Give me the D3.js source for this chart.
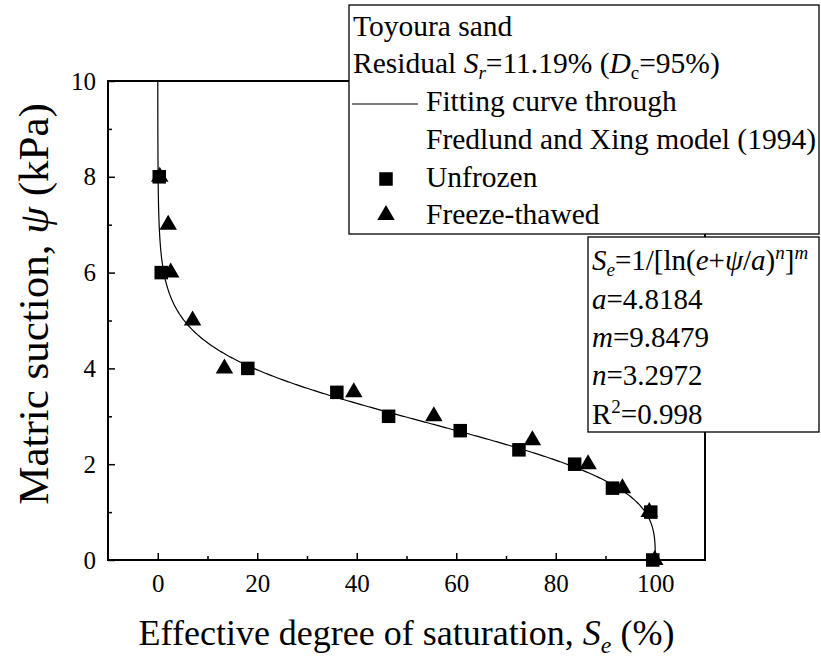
<!DOCTYPE html>
<html>
<head>
<meta charset="utf-8">
<script src="https://cdn.jsdelivr.net/npm/d3@7"></script>
<style>
  html, body { margin: 0; padding: 0; background: #fff; }
  svg { display: block; font-family: "Liberation Serif", "Times New Roman", serif; }
</style>
</head>
<body>
<svg id="chart" width="821" height="661"></svg>
<script>
// Soil-water characteristic data: effective saturation (%) vs matric suction (kPa)
const suctionUnfrozen = [8, 6, 4, 3.5, 3, 2.7, 2.3, 2, 1.5, 1, 0];
const satUnfrozen     = [0.3, 0.7, 18.1, 36.0, 46.4, 60.8, 72.6, 83.8, 91.4, 99.1, 99.5];
const suctionThawed   = [8, 7, 6, 5, 4, 3.5, 3, 2.5, 2, 1.5, 1, 0];
const satThawed       = [0.4, 2.1, 2.6, 7.0, 13.4, 39.4, 55.5, 75.3, 86.5, 93.4, 98.8, 99.9];

// Fredlund & Xing (1994) fit parameters
const fitA = 4.8184, fitM = 9.8479, fitN = 3.2972, fitR2 = 0.998;

const xTicks = [0, 20, 40, 60, 80, 100];
const yTicks = [0, 2, 4, 6, 8, 10];

const svg = d3.select("#chart");
const L = 108, R = 705, T = 81, B = 560;

const x = d3.scaleLinear().domain([-10, 110]).range([L, R]);
const y = d3.scaleLinear().domain([0, 10]).range([B, T]);

// fitted curve
const fx = psi => 100 / Math.pow(Math.log(Math.E + Math.pow(psi / fitA, fitN)), fitM);
const psiGrid = d3.range(0, 10.0001, 0.01);
const curve = psiGrid.map(p => [fx(p), p]);

svg.append("path")
  .attr("d", d3.line().x(d => x(d[0])).y(d => y(d[1]))(curve))
  .attr("fill", "none").attr("stroke", "#000").attr("stroke-width", 1.2);

// markers
const sq = 13.5, triW = 17.5, triH = 15;
const triPath = `M0,${-2*triH/3}L${triW/2},${triH/3}L${-triW/2},${triH/3}Z`;

svg.append("g").selectAll("rect")
  .data(d3.zip(satUnfrozen, suctionUnfrozen)).join("rect")
  .attr("x", d => x(d[0]) - sq/2).attr("y", d => y(d[1]) - sq/2)
  .attr("width", sq).attr("height", sq).attr("fill", "#000");

svg.append("g").selectAll("path")
  .data(d3.zip(satThawed, suctionThawed)).join("path")
  .attr("transform", d => `translate(${x(d[0])},${y(d[1])})`)
  .attr("d", triPath).attr("fill", "#000");

// axes (ticks pointing inward)
const xAxis = svg.append("g").attr("transform", `translate(0,${B})`)
  .call(d3.axisBottom(x).tickValues(xTicks).tickSize(-7).tickPadding(14).tickFormat(d3.format("d")));
const xMinor = svg.append("g").attr("transform", `translate(0,${B})`)
  .call(d3.axisBottom(x).tickValues(d3.range(10, 110, 20)).tickSize(-4).tickFormat(""));
const yAxis = svg.append("g").attr("transform", `translate(${L},0)`)
  .call(d3.axisLeft(y).tickValues(yTicks).tickSize(-7).tickPadding(12).tickFormat(d3.format("d")));
const yMinor = svg.append("g").attr("transform", `translate(${L},0)`)
  .call(d3.axisLeft(y).tickValues(d3.range(1, 10, 2)).tickSize(-4).tickFormat(""));

[xAxis, xMinor, yAxis, yMinor].forEach(g => {
  g.attr("font-family", null);
  g.select(".domain").remove();
  g.selectAll("line").attr("stroke", "#000").attr("stroke-width", 1.5);
  g.selectAll("text").attr("font-family", "Liberation Serif").attr("font-size", 25).attr("fill", "#000");
});

// frame
svg.append("rect").attr("x", L).attr("y", T).attr("width", R - L).attr("height", B - T)
  .attr("fill", "none").attr("stroke", "#000").attr("stroke-width", 2);

// axis titles
const xt = svg.append("text").attr("x", (L + R) / 2).attr("y", 645)
  .attr("text-anchor", "middle").attr("font-size", 36);
xt.append("tspan").text("Effective degree of saturation, ");
xt.append("tspan").attr("font-style", "italic").text("S");
xt.append("tspan").attr("font-style", "italic").attr("font-size", 24).attr("dy", 8).text("e");
xt.append("tspan").attr("dy", -8).text(" (%)");

const yt = svg.append("text").attr("transform", "translate(48,304) rotate(-90)")
  .attr("text-anchor", "middle").attr("font-size", 43);
yt.append("tspan").text("Matric suction, ");
yt.append("tspan").attr("font-style", "italic").text("ψ");
yt.append("tspan").text(" (kPa)");

// legend box
const lg = svg.append("g");
lg.append("rect").attr("x", 349).attr("y", 5).attr("width", 470).attr("height", 229)
  .attr("fill", "#fff").attr("stroke", "#000").attr("stroke-width", 1.3);
const fs = 29.5;
lg.append("text").attr("x", 353).attr("y", 36).attr("font-size", fs).text("Toyoura sand");
const r2 = lg.append("text").attr("x", 353).attr("y", 73).attr("font-size", fs);
r2.append("tspan").text("Residual ");
r2.append("tspan").attr("font-style", "italic").text("S");
r2.append("tspan").attr("font-style", "italic").attr("font-size", 19).attr("dy", 6).text("r");
r2.append("tspan").attr("dy", -6).text("=11.19% (");
r2.append("tspan").attr("font-style", "italic").text("D");
r2.append("tspan").attr("font-size", 19).attr("dy", 6).text("c");
r2.append("tspan").attr("dy", -6).text("=95%)");
lg.append("line").attr("x1", 352).attr("x2", 418).attr("y1", 104).attr("y2", 104)
  .attr("stroke", "#000").attr("stroke-width", 1.2);
lg.append("text").attr("x", 426).attr("y", 111).attr("font-size", fs).text("Fitting curve through");
lg.append("text").attr("x", 426).attr("y", 149).attr("font-size", fs).text("Fredlund and Xing model (1994)");
lg.append("rect").attr("x", 386 - sq/2).attr("y", 179 - sq/2).attr("width", sq).attr("height", sq).attr("fill", "#000");
lg.append("text").attr("x", 426).attr("y", 187).attr("font-size", fs).text("Unfrozen");
lg.append("path").attr("transform", "translate(386,215)").attr("d", triPath).attr("fill", "#000");
lg.append("text").attr("x", 426).attr("y", 224).attr("font-size", fs).text("Freeze-thawed");

// fit parameter box
const pb = svg.append("g");
pb.append("rect").attr("x", 588).attr("y", 237).attr("width", 231).attr("height", 195)
  .attr("fill", "#fff").attr("stroke", "#000").attr("stroke-width", 1.3);
const pfs = 29;
const eq = pb.append("text").attr("x", 592).attr("y", 270).attr("font-size", pfs);
eq.append("tspan").attr("font-style", "italic").text("S");
eq.append("tspan").attr("font-style", "italic").attr("font-size", 19).attr("dy", 6).text("e");
eq.append("tspan").attr("dy", -6).text("=1/[ln(");
eq.append("tspan").attr("font-style", "italic").text("e");
eq.append("tspan").text("+");
eq.append("tspan").attr("font-style", "italic").text("ψ");
eq.append("tspan").text("/");
eq.append("tspan").attr("font-style", "italic").text("a");
eq.append("tspan").text(")");
eq.append("tspan").attr("font-style", "italic").attr("font-size", 19).attr("dy", -11).text("n");
eq.append("tspan").attr("dy", 11).text("]");
eq.append("tspan").attr("font-style", "italic").attr("font-size", 19).attr("dy", -11).text("m");

const params = [["a", fitA], ["m", fitM], ["n", fitN]];
params.forEach((p, i) => {
  const t = pb.append("text").attr("x", 592).attr("y", 308.5 + i * 38.3).attr("font-size", pfs);
  t.append("tspan").attr("font-style", "italic").text(p[0]);
  t.append("tspan").text("=" + p[1]);
});
const rt = pb.append("text").attr("x", 592).attr("y", 423.5).attr("font-size", pfs);
rt.append("tspan").text("R");
rt.append("tspan").attr("font-size", 19).attr("dy", -11).text("2");
rt.append("tspan").attr("dy", 11).text("=" + fitR2);
</script>
</body>
</html>
